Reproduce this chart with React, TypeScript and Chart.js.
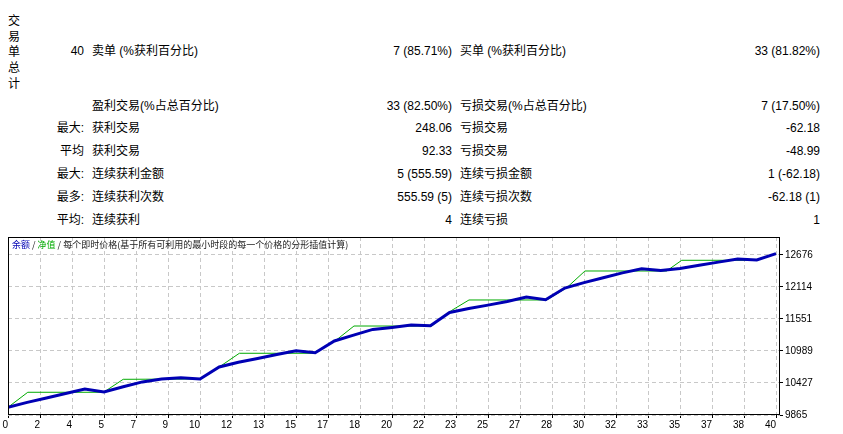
import React, { useEffect, useRef } from "react";
import { Chart, registerables } from "chart.js";

Chart.register(...registerables);

// ---------- summary table data ----------
const summaryHeader = "交易单总计";
const rowPrefixes = ["40", "", "最大:", "平均", "最大:", "最多:", "平均:"];
const leftLabels = [
  "卖单 (%获利百分比)",
  "盈利交易(%占总百分比)",
  "获利交易",
  "获利交易",
  "连续获利金额",
  "连续获利次数",
  "连续获利",
];
const leftValues = ["7 (85.71%)", "33 (82.50%)", "248.06", "92.33", "5 (555.59)", "555.59 (5)", "4"];
const rightLabels = [
  "买单 (%获利百分比)",
  "亏损交易(%占总百分比)",
  "亏损交易",
  "亏损交易",
  "连续亏损金额",
  "连续亏损次数",
  "连续亏损",
];
const rightValues = ["33 (81.82%)", "7 (17.50%)", "-62.18", "-48.99", "1 (-62.18)", "-62.18 (1)", "1"];

// ---------- chart data ----------
const tradeNumbers = [
  0, 1, 2, 3, 4, 5, 6, 7, 8, 9, 10, 11, 12, 13, 14, 15, 16, 17, 18, 19, 20,
  21, 22, 23, 24, 25, 26, 27, 28, 29, 30, 31, 32, 33, 34, 35, 36, 37, 38, 39, 40,
];
const balance = [
  10000, 10086, 10165, 10244, 10322, 10269, 10362, 10446, 10499, 10518, 10497,
  10708, 10790, 10857, 10926, 10994, 10959, 11165, 11268, 11368, 11403,
  11445, 11433, 11665, 11734, 11795, 11858, 11937, 11890, 12095, 12190,
  12276, 12361, 12434, 12403, 12438, 12494, 12550, 12605, 12587, 12700,
];
const equityTrades = [
  0, 1.03, 4.88, 5, 6, 10, 11.1, 12.05, 15.82, 16, 17.1, 18.02, 22.07, 23.1,
  24.01, 28.06, 29.1, 30.05, 34.3, 35.09, 38.4, 39, 40,
];
const equity = [
  10000, 10264, 10264, 10269, 10492, 10497, 10731, 10949, 10949, 10959, 11182,
  11428, 11427, 11700, 11885, 11885, 12100, 12394, 12394, 12582, 12582, 12587,
  12700,
];
const xTickLabels = [
  "0", "2", "4", "5", "7", "9", "10", "12", "13", "15", "17", "18", "20",
  "22", "23", "25", "27", "28", "30", "32", "33", "35", "37", "38", "40",
];
const yTickLabels = [9865, 10427, 10989, 11551, 12114, 12676];
const legendBalance = "余额";
const legendEquity = "净值";
const legendTail = "每个即时价格(基于所有可利用的最小时段的每一个价格的分形插值计算)";

// ---------- layout ----------
const W = 843;
const H = 434;
const ROW_Y = [51, 106, 128, 151, 174, 197, 220];
const COL_PREFIX_RIGHT = 84;
const COL_LLABEL_LEFT = 92;
const COL_LVALUE_RIGHT = 452;
const COL_RLABEL_LEFT = 460;
const COL_RVALUE_RIGHT = 820;
const TEXT_FONT = '"Liberation Sans", "Noto Sans CJK SC", sans-serif';

const framePlugin = {
  id: "frame",
  afterDraw(chart: any) {
    const { ctx, chartArea } = chart;
    const l = Math.round(chartArea.left) + 0.5;
    const t = Math.round(chartArea.top) + 0.5;
    const r = Math.round(chartArea.right) - 0.5;
    const b = Math.round(chartArea.bottom) - 0.5;
    ctx.save();
    ctx.strokeStyle = "#000000";
    ctx.lineWidth = 1;
    ctx.setLineDash([]);
    ctx.strokeRect(l, t, r - l, b - t);
    ctx.restore();
  },
};

function BalanceChart() {
  const ref = useRef<HTMLCanvasElement | null>(null);
  useEffect(() => {
    if (!ref.current) return;
    const maxTrade = tradeNumbers[tradeNumbers.length - 1];
    const chart = new Chart(ref.current, {
      type: "line",
      data: {
        datasets: [
          {
            label: legendBalance,
            data: tradeNumbers.map((t, i) => ({ x: t, y: balance[i] })),
            borderColor: "#0000b4",
            borderWidth: 3,
            pointRadius: 0,
            tension: 0,
            fill: false,
          },
          {
            label: legendEquity,
            data: equityTrades.map((t, i) => ({ x: t, y: equity[i] })),
            borderColor: "#00aa00",
            borderWidth: 1,
            pointRadius: 0,
            tension: 0,
            fill: false,
          },
        ],
      },
      options: {
        animation: false,
        responsive: true,
        maintainAspectRatio: false,
        layout: { padding: { left: 8, top: 12, right: 0, bottom: 0 } },
        plugins: {
          legend: { display: false },
          tooltip: { enabled: false },
          title: { display: false },
        },
        scales: {
          x: {
            type: "linear",
            min: 0,
            max: maxTrade * (772 / 768),
            afterBuildTicks: (scale: any) => {
              scale.ticks = xTickLabels.map((_, i) => ({
                value: (i * maxTrade) / (xTickLabels.length - 1),
              }));
            },
            afterFit: (scale: any) => {
              scale.height = 19;
            },
            ticks: {
              autoSkip: false,
              maxRotation: 0,
              minRotation: 0,
              align: "end",
              padding: 1,
              color: "#000000",
              font: { family: "Liberation Sans", size: 10 },
              callback: (_v: any, index: number) => xTickLabels[index],
            },
            grid: {
              color: "#c8c8c8",
              lineWidth: 1,
              drawTicks: true,
              tickLength: 3,
              tickColor: "#000000",
            },
            border: { display: false, dash: [4, 3] },
          },
          y: {
            type: "linear",
            position: "right",
            min: 9865,
            max: 12991,
            afterBuildTicks: (scale: any) => {
              scale.ticks = yTickLabels.map((v) => ({ value: v }));
            },
            afterFit: (scale: any) => {
              scale.width = 63;
            },
            ticks: {
              autoSkip: false,
              padding: 2,
              color: "#000000",
              font: { family: "Liberation Sans", size: 10 },
              callback: (v: any) => String(v),
            },
            grid: {
              color: "#c8c8c8",
              lineWidth: 1,
              drawTicks: true,
              tickLength: 3,
              tickColor: "#000000",
            },
            border: { display: false, dash: [4, 3] },
          },
        },
      },
      plugins: [framePlugin],
    } as any);
    return () => chart.destroy();
  }, []);
  return (
    <div style={{ position: "absolute", left: 0, top: 225, width: W, height: 209 }}>
      <canvas ref={ref} />
      <div
        style={{
          position: "absolute",
          left: 12,
          top: 14,
          fontFamily: '"Noto Sans CJK SC", sans-serif',
          fontSize: 9,
          lineHeight: "12px",
          whiteSpace: "nowrap",
          color: "#202020",
        }}
      >
        <span style={{ color: "#0000b4" }}>{legendBalance}</span>
        <span> / </span>
        <span style={{ color: "#00aa00" }}>{legendEquity}</span>
        <span> / {legendTail}</span>
      </div>
    </div>
  );
}

function Cell(props: { text: string; y: number; left?: number; right?: number }) {
  const style: any = {
    position: "absolute",
    top: props.y - 8,
    lineHeight: "16px",
    height: 16,
    fontSize: 12,
    fontFamily: TEXT_FONT,
    whiteSpace: "nowrap",
    color: "#000000",
  };
  if (props.left !== undefined) {
    style.left = props.left;
  } else if (props.right !== undefined) {
    style.right = W - props.right;
    style.textAlign = "right";
  }
  return <div style={style}>{props.text}</div>;
}

export default function App() {
  useEffect(() => {
    document.body.style.margin = "0";
    document.body.style.background = "#ffffff";
  }, []);
  return (
    <div
      style={{
        position: "absolute",
        left: 0,
        top: 0,
        width: W,
        height: H,
        background: "#ffffff",
        overflow: "hidden",
      }}
    >
      <div
        style={{
          position: "absolute",
          left: 8,
          top: 14,
          width: 12,
          fontSize: 12,
          fontFamily: TEXT_FONT,
          color: "#000000",
        }}
      >
        {summaryHeader.split("").map((ch, i) => (
          <div key={i} style={{ height: 15.7, lineHeight: "15.7px", textAlign: "center" }}>
            {ch}
          </div>
        ))}
      </div>
      {ROW_Y.map((y, i) => (
        <React.Fragment key={i}>
          {rowPrefixes[i] ? <Cell text={rowPrefixes[i]} y={y} right={COL_PREFIX_RIGHT} /> : null}
          <Cell text={leftLabels[i]} y={y} left={COL_LLABEL_LEFT} />
          <Cell text={leftValues[i]} y={y} right={COL_LVALUE_RIGHT} />
          <Cell text={rightLabels[i]} y={y} left={COL_RLABEL_LEFT} />
          <Cell text={rightValues[i]} y={y} right={COL_RVALUE_RIGHT} />
        </React.Fragment>
      ))}
      <BalanceChart />
    </div>
  );
}
